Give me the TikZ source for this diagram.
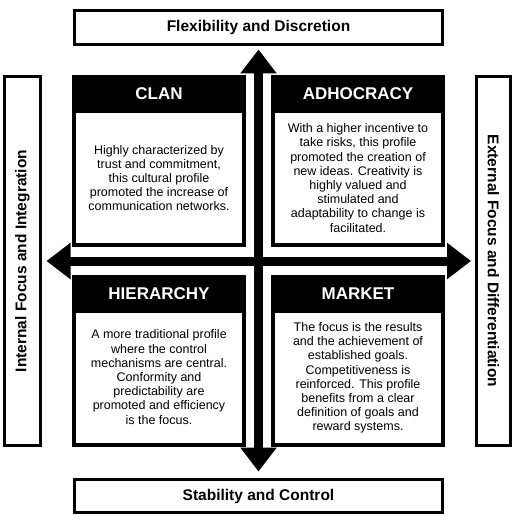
\documentclass[tikz,border=0pt]{standalone}
\usepackage{fontspec}
\setmainfont{Liberation Sans}
\usetikzlibrary{arrows.meta}
\tikzset{
  labelbox/.style={draw=black, line width=3pt, fill=white, inner sep=0pt,
    font=\bfseries\fontsize{15.5}{18}\selectfont},
  quad/.style={draw=black, line width=4pt, fill=white, minimum width=170pt, minimum height=168pt, inner sep=0pt},
  head/.style={fill=black, text=white, minimum width=174pt, minimum height=38pt, inner sep=0pt,
    font=\bfseries\fontsize{17}{20}\selectfont},
  bodytext/.style={align=center, inner sep=0pt, font=\fontsize{12.5}{14.2}\selectfont},
  bigarrow/.style={line width=9pt, {Triangle[width=35pt,length=24pt]}-{Triangle[width=35pt,length=24pt]}}
}
\begin{document}
\begin{tikzpicture}[x=1pt,y=-1pt]
\useasboundingbox (0,0) rectangle (519,524);
% axis label boxes
\node[labelbox, minimum width=368pt, minimum height=34pt] (top) at (258.5,27.5) {Flexibility and Discretion};
\node[labelbox, minimum width=368pt, minimum height=33pt] (bot) at (258.5,496) {Stability and Control};
\node[labelbox, rotate=90, minimum width=368pt, minimum height=36pt] (left) at (22.5,261) {Internal Focus and Integration};
\node[labelbox, rotate=-90, minimum width=368pt, minimum height=34pt] (right) at (493.5,261) {External Focus and Differentiation};
% arrows
\draw[bigarrow, shorten <=3.5pt, shorten >=6.5pt] (top) -- (bot);
\draw[bigarrow, shorten <=4.5pt, shorten >=4pt] (left) -- (right);
% quadrants
\node[quad] (clan) at (159,161) {};
\node[head] (clanH) at (159,94) {CLAN};
\node[bodytext] (clanT) at (159,178) {Highly characterized by\\trust and commitment,\\this cultural profile\\promoted the increase of\\communication networks.};

\node[quad] (adho) at (358,161) {};
\node[head] (adhoH) at (358,94) {ADHOCRACY};
\node[bodytext] (adhoT) at (358,178) {With a higher incentive to\\take risks, this profile\\promoted the creation of\\new ideas. Creativity is\\highly valued and\\stimulated and\\adaptability to change is\\facilitated.};

\node[quad] (hier) at (159,361) {};
\node[head] (hierH) at (159,294) {HIERARCHY};
\node[bodytext] (hierT) at (159,377) {A more traditional profile\\where the control\\mechanisms are central.\\Conformity and\\predictability are\\promoted and efficiency\\is the focus.};

\node[quad] (mark) at (358,361) {};
\node[head] (markH) at (358,294) {MARKET};
\node[bodytext] (markT) at (358,378) {The focus is the results\\and the achievement of\\established goals.\\Competitiveness is\\reinforced. This profile\\benefits from a clear\\definition of goals and\\reward systems.};
\end{tikzpicture}
\end{document}
